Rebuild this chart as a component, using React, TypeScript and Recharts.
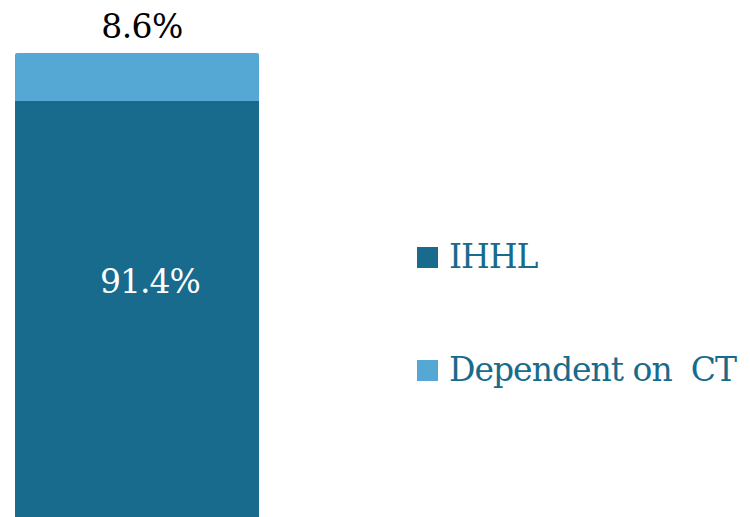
import React from 'react';
import { BarChart, Bar, XAxis, YAxis, Legend, LabelList } from 'recharts';

const categories = ['Toilet access'];
const ihhlShare = [91.4];
const ctShare = [8.6];
const seriesNames = ['IHHL', 'Dependent on  CT'];

const data = categories.map((name, i) => ({ name, ihhl: ihhlShare[i], ct: ctShare[i] }));

const DARK = '#186b8c';
const LIGHT = '#55a8d4';
const FONT = "'DejaVu Serif', serif";

const renderLegend = (props: any) => {
  const payload = [...(props.payload || [])].sort(
    (a: any, b: any) => seriesNames.indexOf(a.value) - seriesNames.indexOf(b.value)
  );
  return (
    <div style={{ fontFamily: FONT }}>
      {payload.map((entry: any, i: number) => (
        <div
          key={`leg-${i}`}
          style={{ display: 'flex', alignItems: 'center', height: 40, marginBottom: i === 0 ? 73 : 0 }}
        >
          <span style={{ width: 21, height: 21, background: entry.color, display: 'inline-block', marginRight: 11 }} />
          <span style={{ color: DARK, fontSize: 33, whiteSpace: 'pre', lineHeight: '40px', letterSpacing: -1 }}>{entry.value}</span>
        </div>
      ))}
    </div>
  );
};

const topLabel = (props: any) => {
  const { x, y, width, value } = props;
  return (
    <text x={x + width / 2 + 5} y={y - 15} textAnchor="middle" fill="#000" fontSize={33} letterSpacing={-0.6} style={{ fontFamily: FONT }}>
      {`${value}%`}
    </text>
  );
};

const innerLabel = (props: any) => {
  const { x, y, width, value } = props;
  return (
    <text x={x + width / 2 + 13} y={y + 192} textAnchor="middle" fill="#fff" fontSize={33} letterSpacing={-1} style={{ fontFamily: FONT }}>
      {`${value}%`}
    </text>
  );
};

export default function App() {
  return (
    <div style={{ position: 'absolute', left: 0, top: 0, width: 750, height: 640, background: '#fff' }}>
      <BarChart
        width={750}
        height={640}
        data={data}
        margin={{ top: 53, right: 491, bottom: 29, left: 15 }}
        barCategoryGap={0}
      >
        <XAxis dataKey="name" hide />
        <YAxis hide domain={[0, 100]} />
        <Legend
          layout="vertical"
          align="center"
          verticalAlign="middle"
          content={renderLegend}
          wrapperStyle={{ left: 417, top: 237, width: 333 }}
        />
        <Bar dataKey="ihhl" name={seriesNames[0]} stackId="a" fill={DARK} isAnimationActive={false}>
          <LabelList dataKey="ihhl" content={innerLabel} />
        </Bar>
        <Bar dataKey="ct" name={seriesNames[1]} stackId="a" fill={LIGHT} radius={[2, 2, 0, 0]} isAnimationActive={false}>
          <LabelList dataKey="ct" content={topLabel} />
        </Bar>
      </BarChart>
    </div>
  );
}
